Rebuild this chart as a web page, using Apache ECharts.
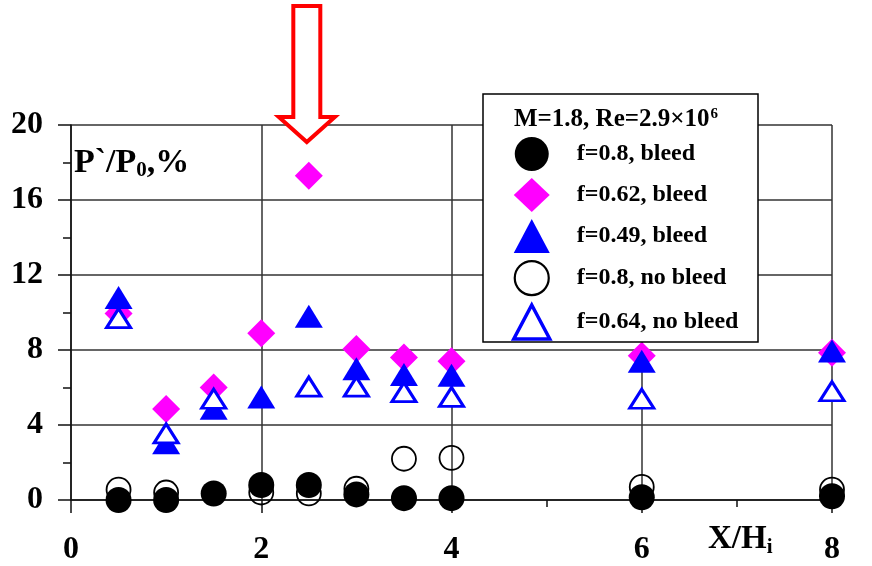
<!DOCTYPE html>
<html>
<head>
<meta charset="utf-8">
<script src="https://cdn.jsdelivr.net/npm/echarts@6/dist/echarts.min.js"></script>
<style>
  html, body { margin: 0; padding: 0; background: #ffffff; }
  #chart { width: 872px; height: 566px; }
</style>
</head>
<body>
<div id="chart"></div>
<script>
const FONT = '"Liberation Serif", "Times New Roman", serif';

// Axis ticks
const xTickValues = [0, 2, 4, 6, 8];
const yTickValues = [0, 4, 8, 12, 16, 20];

// f=0.8, bleed (filled circles)
const xBleed080 = [0.5, 1, 1.5, 2, 2.5, 3, 3.5, 4, 6, 8];
const yBleed080 = [0.0, 0.0, 0.35, 0.8, 0.8, 0.3, 0.1, 0.1, 0.15, 0.2];

// f=0.62, bleed (diamonds)
const xBleed062 = [0.5, 1, 1.5, 2, 2.5, 3, 3.5, 4, 6, 8];
const yBleed062 = [9.95, 4.85, 6.0, 8.9, 17.3, 8.05, 7.6, 7.4, 7.7, 7.85];

// f=0.49, bleed (filled triangles)
const xBleed049 = [0.5, 1, 1.5, 2, 2.5, 3, 3.5, 4, 6, 8];
const yBleed049 = [10.8, 3.05, 4.9, 5.5, 9.8, 7.0, 6.7, 6.65, 7.4, 7.95];

// f=0.8, no bleed (open circles)
const xNoBleed080 = [0.5, 1, 2, 2.5, 3, 3.5, 4, 6, 8];
const yNoBleed080 = [0.55, 0.4, 0.4, 0.35, 0.6, 2.2, 2.25, 0.7, 0.55];

// f=0.64, no bleed (open triangles)
const xNoBleed064 = [0.5, 1, 1.5, 2.5, 3, 3.5, 4, 6, 8];
const yNoBleed064 = [9.7, 3.55, 5.4, 6.05, 6.05, 5.75, 5.5, 5.4, 5.8];

const legendOrder = ['f=0.8, bleed', 'f=0.62, bleed', 'f=0.49, bleed', 'f=0.8, no bleed', 'f=0.64, no bleed'];
const legendTitle = 'M=1.8, Re=2.9×10';
const legendTitleSup = '6';
const arrowX = 2.5;

const pairs = (xs, ys) => xs.map((x, i) => [x, ys[i]]);

const chart = echarts.init(document.getElementById('chart'), null, { renderer: 'canvas' });

const axisLabelStyle = {
  fontFamily: FONT, fontWeight: 'bold', fontSize: 32, color: '#000'
};

chart.setOption({
  animation: false,
  backgroundColor: '#ffffff',
  grid: { left: 71, right: 40, top: 125, bottom: 61, containLabel: false },
  xAxis: {
    type: 'value', min: 0, max: 8, interval: 2,
    axisLine: { show: true, onZero: false, lineStyle: { color: '#111', width: 1.5 } },
    axisTick: { show: true, inside: false, length: 13, lineStyle: { color: '#111', width: 1.5 } },
    minorTick: { show: true, splitNumber: 2, length: 7, lineStyle: { color: '#111', width: 1.5 } },
    splitLine: { show: true, lineStyle: { color: '#333', width: 1.5 } },
    axisLabel: Object.assign({ margin: 34, customValues: xTickValues }, axisLabelStyle)
  },
  yAxis: {
    type: 'value', min: 0, max: 20, interval: 4,
    axisLine: { show: true, onZero: false, lineStyle: { color: '#111', width: 1.5 } },
    axisTick: { show: true, inside: false, length: 13, lineStyle: { color: '#111', width: 1.5 } },
    minorTick: { show: true, splitNumber: 2, length: 8, lineStyle: { color: '#111', width: 1.5 } },
    splitLine: { show: true, lineStyle: { color: '#333', width: 1.5 } },
    axisLabel: Object.assign({ margin: 28, customValues: yTickValues }, axisLabelStyle)
  },
  legend: {
    orient: 'vertical',
    left: 507, top: 132,
    itemWidth: 36, itemHeight: 34, itemGap: 7,
    selectedMode: false,
    data: legendOrder.map(name => (
      name.indexOf('no bleed') >= 0
        ? { name: name, itemStyle: { borderWidth: name.indexOf('0.64') >= 0 ? 3.5 : 2.2 } }
        : { name: name }
    )),
    z: 20,
    textStyle: {
      fontFamily: FONT, fontWeight: 'bold', fontSize: 24, color: '#000',
      padding: [0, 0, 0, 22]
    }
  },
  series: [
    {
      name: 'f=0.8, no bleed', type: 'scatter', z: 2,
      symbol: 'circle', symbolSize: 24,
      itemStyle: { color: 'rgba(255,255,255,0)', borderColor: '#000', borderWidth: 1.8, opacity: 1 },
      data: pairs(xNoBleed080, yNoBleed080)
    },
    {
      name: 'f=0.8, bleed', type: 'scatter', z: 3,
      symbol: 'circle', symbolSize: 26,
      itemStyle: { color: '#000', opacity: 1 },
      data: pairs(xBleed080, yBleed080)
    },
    {
      name: 'f=0.62, bleed', type: 'scatter', z: 4,
      symbol: 'diamond', symbolSize: [28, 28],
      itemStyle: { color: '#ff00ff', opacity: 1 },
      data: pairs(xBleed062, yBleed062)
    },
    {
      name: 'f=0.49, bleed', type: 'scatter', z: 5,
      symbol: 'triangle', symbolSize: [28, 23],
      itemStyle: { color: '#0000ff', opacity: 1 },
      data: pairs(xBleed049, yBleed049)
    },
    {
      name: 'f=0.64, no bleed', type: 'scatter', z: 6,
      symbol: 'triangle', symbolSize: [24, 19],
      itemStyle: { color: '#ffffff', borderColor: '#0000ff', borderWidth: 3, opacity: 1 },
      data: pairs(xNoBleed064, yNoBleed064)
    }
  ]
});

// Annotations: legend frame and heading, axis names, and the red arrow above x = 2.5
const top20 = chart.convertToPixel({ gridIndex: 0 }, [arrowX, 20]);
const ax = top20[0] - 2, ay = top20[1];
const arrowPoints = [
  [ax - 13.5, ay - 119], [ax + 13.5, ay - 119], [ax + 13.5, ay - 8],
  [ax + 28, ay - 8], [ax, ay + 17], [ax - 28, ay - 8], [ax - 13.5, ay - 8]
];

chart.setOption({
  graphic: [
    {
      type: 'rect', z: 10,
      shape: { x: 483, y: 94, width: 275, height: 248 },
      style: { fill: '#ffffff', stroke: '#000', lineWidth: 1.5 }
    },
    {
      type: 'text', z: 20, left: 514, top: 107,
      style: {
        text: '{a|' + legendTitle + '}{s|' + legendTitleSup + '}',
        rich: {
          a: { fontFamily: FONT, fontWeight: 'bold', fontSize: 25, fill: '#000' },
          s: { fontFamily: FONT, fontWeight: 'bold', fontSize: 15, fill: '#000', verticalAlign: 'top', padding: [0, 0, 10, 1] }
        }
      }
    },
    {
      type: 'text', z: 20, left: 74, top: 146,
      style: {
        text: '{a|P`/P}{s|0}{a|,%}',
        rich: {
          a: { fontFamily: FONT, fontWeight: 'bold', fontSize: 34, fill: '#000' },
          s: { fontFamily: FONT, fontWeight: 'bold', fontSize: 21, fill: '#000', padding: [16, 0, 0, 0] }
        }
      }
    },
    {
      type: 'text', z: 20, left: 708, top: 523,
      style: {
        text: '{a|X/H}{s|i}',
        rich: {
          a: { fontFamily: FONT, fontWeight: 'bold', fontSize: 33, fill: '#000' },
          s: { fontFamily: FONT, fontWeight: 'bold', fontSize: 21, fill: '#000', padding: [16, 0, 0, 0] }
        }
      }
    },
    {
      type: 'polygon', z: 10,
      shape: { points: arrowPoints },
      style: { fill: '#ffffff', stroke: '#ff0000', lineWidth: 4, lineJoin: 'miter' }
    }
  ]
});
</script>
</body>
</html>
